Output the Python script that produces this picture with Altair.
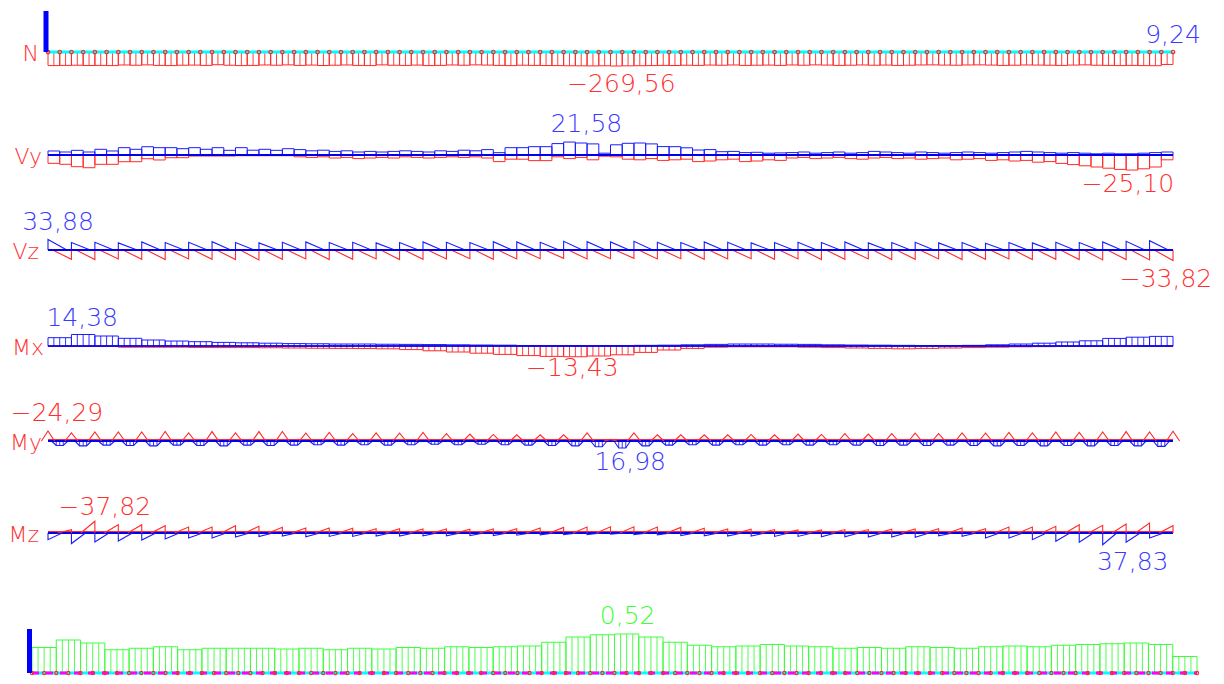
import altair as alt
import pandas as pd
import numpy as np

# ---------------- data ----------------
ROW_NAMES = ["N", "Vy", "Vz", "Mx", "My", "Mz"]
SPANS = 48

# axial force per half-span element (kN), min envelope
N_MIN = [-262, -258, -255, -260, -258, -262, -250, -255, -248, -258, -262, -255,
         -252, -258, -245, -255, -262, -258, -250, -255, -248, -258, -252, -260,
         -255, -250, -258, -262, -248, -255, -258, -252, -262, -258, -250, -255,
         -248, -252, -258, -262, -255, -258, -260, -262, -265, -266, -268, -265,
         -269.56, -266, -264, -262, -258, -260, -255, -258, -252, -255, -250, -258,
         -255, -252, -258, -250, -255, -248, -252, -258, -255, -250, -255, -252,
         -258, -255, -250, -248, -252, -255, -250, -248, -252, -258, -255, -250,
         -252, -255, -258, -252, -248, -255, -258, -262, -258, -262, -264, -240]
N_END = 9.24

VY_MAX = [6.7, 5, 7.8, 5, 9.5, 6.7, 12.2, 9.5, 13.8, 12.2, 12.2, 10.5,
          12.2, 9.5, 12.2, 7.8, 12.2, 8, 9.5, 7.8, 10.5,
          9, 7, 8, 6, 7, 5, 6, 5, 6, 7, 6, 5, 7, 6, 8, 7, 9,
          3.9, 12.2, 12.2, 13.9, 13.9,
          19, 21.58, 20, 18.5, 3, 17, 19.5, 20, 18.5, 14,
          13.9, 12, 8.3, 9, 5.5, 6, 4, 4.5, 3, 3.5,
          4, 5, 3, 4, 5, 3, 4, 6, 5, 4, 3, 5, 4, 3, 4, 5, 4, 3, 4, 5, 6, 5, 4, 3,
          4, 3, 2, 3, 2, 2, 3, 4, 5]
VY_MIN = [-13.9, -15.5, -19.5, -21.2, -15.5, -15.5, -11.2, -11.2, -6.2, -8.3, -4.5, -4.5,
          -1.7, -1.7, -1.7, -1.7, -1.2, -1.2, -1.2, -1.2, -1.2,
          -3, -4, -3, -5, -4, -6, -5, -4, -5, -3, -4, -5, -4, -3, -4, -3, -5,
          -11, -7, -7, -9.4, -9.4,
          -3, -6, -4, -8, -2, -3, -7, -8, -6, -9,
          -8, -7, -11, -10, -8, -7, -11, -10, -8, -9,
          -5, -4, -6, -5, -4, -6, -7, -5, -4, -6, -5, -7, -6, -5, -8, -7, -6, -9,
          -8, -10, -9, -12, -11, -14, -16, -18, -20, -22, -24, -25.1, -23, -20, -8]

VZ_MAX = [33.88, 24, 25, 23, 26, 24, 25, 27, 24, 23, 25, 26,
          24, 25, 23, 24, 26, 25, 24, 27, 26, 25, 28, 27,
          26, 28, 25, 24, 26, 25, 23, 24, 25, 24, 26, 23,
          24, 25, 23, 24, 22, 24, 23, 25, 24, 26, 28, 30]
VZ_MIN = [-30, -31, -29, -30, -31, -29, -30, -31, -32, -30, -29, -31,
          -30, -29, -31, -30, -29, -28, -30, -29, -28, -27, -29, -28,
          -27, -29, -28, -30, -29, -28, -30, -29, -31, -30, -29, -31,
          -30, -29, -31, -30, -29, -31, -30, -31, -32, -31, -32, -33.82]

MX_MAX = [10.4, 14.38, 12.5, 9.6, 7.5, 6.2, 5.4, 4.5, 4.0, 3.5, 3.0,
          2.8, 2.5, 2.5, 2.2, 2.0, 1.8, 1.5, 1.2, 1.0,
          0.5, 0.3, 0.2, 0.3, 0.5, 0.8, 1.0,
          1.5, 2.0, 2.5, 2.5, 2.2, 2.0, 1.5, 1.2, 1.0, 0.8, 0.5,
          0.5, 0.8, 1.5, 2.5, 3.5, 5.0, 6.5, 9.5, 11.0, 12.0]
MX_MIN = [-0.5, -0.5, -0.5, -1.5, -1.5, -1.5, -1.8, -2.0, -2.0, -2.2, -2.5,
          -2.8, -3.0, -3.2, -3.5, -4.5, -6.0, -7.5, -9.0, -10.5,
          -12.0, -13.0, -13.43, -12.5, -11.0, -8.0, -5.0,
          -3.0, -1.5, -1.0, -1.0, -1.0, -1.5, -2.0, -2.5, -3.0, -3.5, -3.0,
          -2.5, -2.0, -1.5, -1.0, -0.8, -0.5, -0.5, -0.3, -0.3, -0.3]

MY_NEG = [-24.29, -20, -22, -22, -22, -23.5, -20, -23, -20, -23, -23.5,
          -19, -21, -18, -20, -19, -21, -18, -17, -16,
          -15, -15, -15, -20, -4, -20, -15,
          -15, -15, -15, -16, -15, -17, -16, -18, -17, -18, -19,
          -18, -20, -19, -21, -20, -22, -21, -22, -23, -22, -24]
MY_POS = [11, 12, 10, 11, 12, 10, 11, 12, 10, 11, 10,
          9, 10, 9, 10, 9, 8, 9, 8, 9,
          10, 11, 12, 14, 16.98, 12, 10,
          9, 10, 9, 10, 9, 10, 9, 10, 11, 10, 11,
          10, 11, 12, 11, 12, 11, 12, 11, 12, 13]

MZ_POS = [21.6, 34, 29, 26, 22.6, 19.4, 16, 16, 13, 11.3, 9.7,
          12, 11, 11, 10, 10, 9, 9, 8, 8, 7, 6, 5, 5, 4, 5, 6, 8, 9, 10, 10, 11, 11, 12, 12, 13, 13, 14,
          9, 10.6, 16, 16, 21.6, 26.8, 30, 37.83, 30, 16]
MZ_NEG = [-10.7, -37.82, -26.8, -26.8, -23.5, -19.4, -19.4, -23.5, -21.6, -18.4, -16,
          -16, -15, -14, -14, -13, -13, -12, -13, -14, -16, -18, -19, -20, -20, -19, -18,
          -15, -13, -12, -11, -10, -10, -11, -11, -12, -13, -14,
          -16, -14, -19.4, -19.4, -21.6, -26.8, -24.8, -29, -32.3, -23.5]

RATIO = [0.34, 0.44, 0.40, 0.31, 0.33, 0.35, 0.31, 0.33, 0.33, 0.33,
         0.32, 0.33, 0.31, 0.33, 0.32, 0.34, 0.33, 0.35, 0.34, 0.35,
         0.36, 0.41, 0.48, 0.51, 0.52, 0.48, 0.41, 0.37, 0.35, 0.36, 0.38,
         0.36, 0.35, 0.33, 0.34, 0.33, 0.35, 0.34, 0.33, 0.35, 0.36, 0.35,
         0.37, 0.38, 0.39, 0.40, 0.38, 0.22]

# ---------------- styles ----------------
W = 1208
BLUE = "#1c1cff"
BEAM_BLUE = "#0000ee"
RED = "#ff2a2a"
GREEN = "#3cff3c"
CYAN = "#00ffff"
MAGENTA = "#ff00ff"
LBL_BLUE = "#3a3aff"
LBL_RED = "#ff3030"
LBL_GREEN = "#3cff3c"
FONT = "DejaVu Sans"


def fmt(v):
    s = f"{abs(v):.2f}".replace(".", ",")
    return ("\u2212" + s) if v < 0 else s


def xscale(left_px, beam_px):
    u = beam_px / SPANS
    return alt.Scale(domain=[-left_px / u, (W - left_px) / u], nice=False, zero=False)


def yscale(h, b, k, reverse=False):
    if reverse:
        return alt.Scale(domain=[-b / k, (h - b) / k], nice=False, zero=False, reverse=True)
    return alt.Scale(domain=[-(h - b) / k, b / k], nice=False, zero=False)


XS = xscale(40, 1125)
XG = xscale(24, 1165)


def X(field, xs):
    return alt.X(field, scale=xs, axis=None)


def Y(field, ys):
    return alt.Y(field, scale=ys, axis=None)


def rect_layer(vals, color, xs, ys, sw=1.0):
    w = SPANS / len(vals)
    df = pd.DataFrame({"x0": [i * w for i in range(len(vals))],
                       "x1": [(i + 1) * w for i in range(len(vals))],
                       "v": vals, "z": 0.0})
    return alt.Chart(df).mark_rect(fillOpacity=0, stroke=color, strokeWidth=sw).encode(
        x=X("x0:Q", xs), x2="x1:Q", y=Y("v:Q", ys), y2="z:Q")


def hatch_layer(vals, fracs, color, xs, ys, sw=0.9):
    w = SPANS / len(vals)
    rows = [{"x": (i + f) * w, "v": v, "z": 0.0} for i, v in enumerate(vals) for f in fracs]
    return alt.Chart(pd.DataFrame(rows)).mark_rule(color=color, strokeWidth=sw).encode(
        x=X("x:Q", xs), y=Y("v:Q", ys), y2="z:Q")


def poly_layer(shapes, color, xs, ys, sw=1.1):
    rows = []
    for sid, pts in enumerate(shapes):
        for o, (x, y) in enumerate(pts):
            rows.append({"sid": sid, "o": o, "x": x, "y": y})
    return alt.Chart(pd.DataFrame(rows)).mark_line(color=color, strokeWidth=sw).encode(
        x=X("x:Q", xs), y=Y("y:Q", ys), detail="sid:N", order="o:Q")


def beam_layer(color, sw, xs, ys, dash=None, yoff=0):
    df = pd.DataFrame({"a": [0.0], "b": [float(SPANS)], "z": [0.0]})
    kw = dict(color=color, strokeWidth=sw, yOffset=yoff)
    if dash:
        kw["strokeDash"] = dash
    return alt.Chart(df).mark_rule(**kw).encode(x=X("a:Q", xs), x2="b:Q", y=Y("z:Q", ys))


def marker_layer(n, color, xs, ys, size=12):
    df = pd.DataFrame({"x": [i * SPANS / n for i in range(n + 1)], "z": 0.0})
    return alt.Chart(df).mark_point(shape="circle", size=size, color=color, filled=False,
                                    strokeWidth=1.2, opacity=1).encode(
        x=X("x:Q", xs), y=Y("z:Q", ys))


def row_label(name, xpx, ys):
    df = pd.DataFrame({"t": [name], "z": [0.0]})
    return alt.Chart(df).mark_text(font=FONT, fontSize=22, fontWeight=200, color=LBL_RED,
                                   align="right", baseline="middle", dy=2).encode(
        x=alt.value(xpx), y=Y("z:Q", ys), text="t:N")


def value_label(x, v, color, xs, ys, dx, dy):
    df = pd.DataFrame({"x": [x], "v": [v], "t": [fmt(v)]})
    return alt.Chart(df).mark_text(font=FONT, fontSize=25, fontWeight=200, color=color,
                                   align="center", baseline="middle", dx=dx, dy=dy).encode(
        x=X("x:Q", xs), y=Y("v:Q", ys), text="t:N")


def blue_bar(xpx, y1, y2):
    return alt.Chart(pd.DataFrame({"k": [0]})).mark_rule(color="#0000ff", strokeWidth=5).encode(
        x=alt.value(xpx), y=alt.value(y1), y2=alt.value(y2))


panels = []

# ---- N ----
h, b = 92, 44
ys = yscale(h, b, 14 / 269.56)
i_n = int(np.argmin(N_MIN))
wN = SPANS / len(N_MIN)
panels.append(alt.layer(
    rect_layer(N_MIN, RED, XS, ys),
    hatch_layer(N_MIN, [0.5], RED, XS, ys),
    beam_layer(CYAN, 3, XS, ys),
    marker_layer(len(N_MIN), RED, XS, ys),
    blue_bar(38, 3, 44),
    row_label(ROW_NAMES[0], 31, ys),
    value_label((i_n + 0.5) * wN, N_MIN[i_n], LBL_RED, XS, ys, 5, 18),
    value_label(float(SPANS), N_END, LBL_BLUE, XS, ys, 0, -17),
).properties(width=W, height=h))

# ---- Vy ----
h, b = 100, 55
ys = yscale(h, b, 0.6)
wV = SPANS / len(VY_MAX)
i_mx = int(np.argmax(VY_MAX))
i_mn = int(np.argmin(VY_MIN))
panels.append(alt.layer(
    rect_layer(VY_MIN, RED, XS, ys),
    rect_layer(VY_MAX, BLUE, XS, ys),
    beam_layer(BEAM_BLUE, 2, XS, ys),
    row_label(ROW_NAMES[1], 34, ys),
    value_label((i_mx + 0.5) * wV, VY_MAX[i_mx], LBL_BLUE, XS, ys, 17, -18),
    value_label((i_mn + 0.5) * wV, VY_MIN[i_mn], LBL_RED, XS, ys, -4, 14),
).properties(width=W, height=h))

# ---- Vz ----
h, b = 95, 50
ys = yscale(h, b, 0.31)
vz_blue = [[(i, 0), (i, v), (i + 0.8, 0), (i, 0)] for i, v in enumerate(VZ_MAX)]
vz_red = [[(i + 0.2, 0), (i + 1, v), (i + 1, 0)] for i, v in enumerate(VZ_MIN)]
i_mx = int(np.argmax(VZ_MAX))
i_mn = int(np.argmin(VZ_MIN))
panels.append(alt.layer(
    poly_layer(vz_red, RED, XS, ys),
    poly_layer(vz_blue, BLUE, XS, ys),
    beam_layer(BEAM_BLUE, 2, XS, ys),
    row_label(ROW_NAMES[2], 31, ys),
    value_label(float(i_mx), VZ_MAX[i_mx], LBL_BLUE, XS, ys, 10, -17),
    value_label(float(i_mn + 1), VZ_MIN[i_mn], LBL_RED, XS, ys, -7, 19),
).properties(width=W, height=h))

# ---- Mx ----
h, b = 95, 51
ys = yscale(h, b, 0.8)
i_mx = int(np.argmax(MX_MAX))
i_mn = int(np.argmin(MX_MIN))
panels.append(alt.layer(
    rect_layer(MX_MIN, RED, XS, ys),
    hatch_layer(MX_MIN, [0.25, 0.5, 0.75], RED, XS, ys),
    rect_layer(MX_MAX, BLUE, XS, ys),
    hatch_layer(MX_MAX, [0.25, 0.5, 0.75], BLUE, XS, ys),
    beam_layer(BEAM_BLUE, 1.5, XS, ys),
    row_label(ROW_NAMES[3], 36, ys),
    value_label(i_mx + 0.5, MX_MAX[i_mx], LBL_BLUE, XS, ys, -1, -16),
    value_label(i_mn + 0.5, MX_MIN[i_mn], LBL_RED, XS, ys, -3, 11),
).properties(width=W, height=h))

# ---- My ----
h, b = 95, 51
ys = yscale(h, b, 0.41, reverse=True)
my_red = [[(j - 0.28, 0), (j, v), (j + 0.28, 0)] for j, v in enumerate(MY_NEG)]
my_blue = [[(i + 0.15, 0), (i + 0.35, v), (i + 0.65, v), (i + 0.85, 0)] for i, v in enumerate(MY_POS)]
i_ng = int(np.argmin(MY_NEG))
i_ps = int(np.argmax(MY_POS))
panels.append(alt.layer(
    poly_layer(my_blue, BLUE, XS, ys),
    hatch_layer(MY_POS, [0.35, 0.5, 0.65], BLUE, XS, ys),
    beam_layer(BEAM_BLUE, 2, XS, ys),
    beam_layer(RED, 1, XS, ys, yoff=-1.5),
    poly_layer(my_red, RED, XS, ys),
    row_label(ROW_NAMES[4], 34, ys),
    value_label(float(i_ng), MY_NEG[i_ng], LBL_RED, XS, ys, 9, -18),
    value_label(i_ps + 0.5, MY_POS[i_ps], LBL_BLUE, XS, ys, 8, 14),
).properties(width=W, height=h))

# ---- Mz ----
h, b = 97, 48
ys = yscale(h, b, 0.31, reverse=True)
mz_blue = [[(i, 0), (i, v), (i + 0.6, 0)] for i, v in enumerate(MZ_POS)]
mz_red = [[(i + 0.4, 0), (i + 1, v), (i + 1, 0)] for i, v in enumerate(MZ_NEG)]
i_ng = int(np.argmin(MZ_NEG))
i_ps = int(np.argmax(MZ_POS))
panels.append(alt.layer(
    beam_layer(BEAM_BLUE, 2, XS, ys),
    beam_layer(RED, 1, XS, ys, yoff=-1.5),
    poly_layer(mz_blue, BLUE, XS, ys),
    poly_layer(mz_red, RED, XS, ys),
    row_label(ROW_NAMES[5], 31, ys),
    value_label(float(i_ng + 1), MZ_NEG[i_ng], LBL_RED, XS, ys, 10, -14),
    value_label(float(i_ps), MZ_POS[i_ps], LBL_BLUE, XS, ys, 30, 17),
).properties(width=W, height=h))

# ---- utilisation ratio ----
h, b = 94, 91
ys = yscale(h, b, 75)
i_r = int(np.argmax(RATIO))
panels.append(alt.layer(
    rect_layer(RATIO, GREEN, XG, ys),
    hatch_layer(RATIO, [0.25, 0.5, 0.75], GREEN, XG, ys),
    beam_layer(CYAN, 3, XG, ys),
    beam_layer(MAGENTA, 3, XG, ys, dash=[7, 7]),
    marker_layer(2 * SPANS, RED, XG, ys, size=10),
    blue_bar(21.5, 47, 91),
    value_label(i_r + 0.5, RATIO[i_r], LBL_GREEN, XG, ys, 1, -18),
).properties(width=W, height=h))

chart = alt.vconcat(*panels, spacing=0, bounds="flush").properties(
    padding=0, background="white"
).configure_view(strokeWidth=0)

chart.save("out.html", embed_options={"renderer": "svg", "actions": False})
